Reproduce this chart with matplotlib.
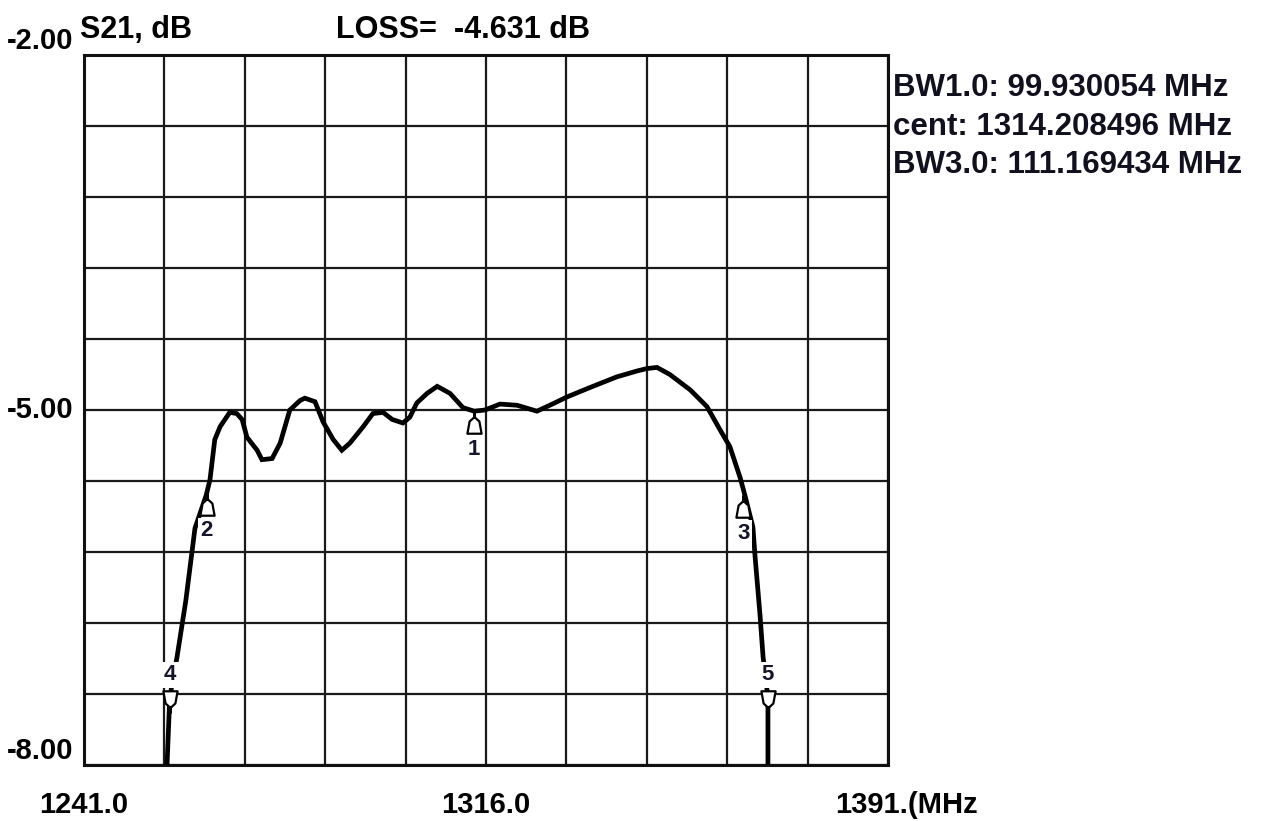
import numpy as np
import matplotlib
matplotlib.use("Agg")
import matplotlib.pyplot as plt
from matplotlib.path import Path

# S21 trace (MHz, dB)
freq_mhz = [1256.4, 1256.5, 1257.0, 1258.35, 1260.0, 1261.7, 1263.8, 1264.5,
            1265.4, 1266.4, 1267.3, 1268.2, 1269.5, 1270.5, 1271.4, 1273.3,
            1274.2, 1276.1, 1277.6, 1279.4, 1281.3, 1282.2, 1284.1, 1285.6,
            1287.5, 1289.1, 1290.6, 1293.1, 1294.9, 1296.8, 1298.5, 1300.5,
            1301.8, 1303.1, 1305.0, 1306.9, 1309.3, 1311.7, 1313.8, 1315.8,
            1318.6, 1321.8, 1325.5, 1327.9, 1331.1, 1335.4, 1340.4, 1344.2,
            1346.0, 1347.9, 1350.3, 1354.1, 1357.2, 1359.7, 1361.5, 1363.4, 1364.3,
            1365.8, 1366.2, 1367.1, 1367.7, 1368.6, 1368.6, 1368.7]
s21_db = [-8.5, -7.99, -7.43, -7.09, -6.61, -6.00, -5.72, -5.59,
          -5.25, -5.14, -5.08, -5.02, -5.03, -5.08, -5.23, -5.34,
          -5.42, -5.41, -5.28, -5.00, -4.92, -4.90, -4.93, -5.10,
          -5.25, -5.34, -5.28, -5.14, -5.03, -5.02, -5.08, -5.11,
          -5.06, -4.94, -4.86, -4.80, -4.86, -4.98, -5.01, -5.00,
          -4.95, -4.96, -5.01, -4.96, -4.89, -4.81, -4.72, -4.67,
          -4.65, -4.64, -4.70, -4.83, -4.97, -5.17, -5.31, -5.57, -5.72,
          -5.99, -6.24, -6.72, -7.09, -7.43, -7.99, -8.5]

# markers: label, freq, level, pointing up?
mk_labels = ["1", "2", "3", "4", "5"]
mk_freq = [1313.8, 1263.9, 1364.0, 1257.0, 1368.6]
mk_db = [-5.01, -5.70, -5.72, -7.56, -7.56]
mk_up = [True, True, True, False, False]

x_grid = np.arange(1241, 1392, 15)
y_grid = np.round(np.arange(-8, -1.99, 0.6), 2)
y_labels = ["-2.00", "-5.00", "-8.00"]
y_label_vals = [-2.0, -5.0, -8.0]
x_labels = ["1241.0", "1316.0", "1391.(MHz"]
x_label_vals = [1241.0, 1316.0, 1391.0]
info_lines = ["BW1.0: 99.930054 MHz", "cent: 1314.208496 MHz", "BW3.0: 111.169434 MHz"]

FONT = ["Liberation Sans", "DejaVu Sans"]

fig = plt.figure(figsize=(12.62, 8.21), dpi=100)
ax = fig.add_axes([84 / 1262, 1 - 765 / 821, 804 / 1262, 710 / 821])

ax.set_xlim(1241, 1391)
ax.set_ylim(-8, -2)
ax.set_xticks(x_grid)
ax.set_yticks(y_grid)
ax.tick_params(length=0, labelbottom=False, labelleft=False)
ax.grid(True, color="#1a1a1a", lw=1.6)
for sp in ax.spines.values():
    sp.set_linewidth(2.2)
    sp.set_color("#111111")

ax.plot(freq_mhz, s21_db, color="black", lw=3.4, solid_joinstyle="miter", zorder=3)

# marker glyph: apex at the origin
up_path = Path([(0, 0), (0, -0.25), (-0.22, -0.45), (-0.32, -1.0), (0.32, -1.0),
                (0.22, -0.45), (0, -0.25), (0, 0)])
down_path = Path([(x, -y) for x, y in up_path.vertices])

for lab, f, d, up in zip(mk_labels, mk_freq, mk_db, mk_up):
    ax.plot([f], [d], marker=up_path if up else down_path, ms=32, mfc="white",
            mec="black", mew=1.6, zorder=4, clip_on=False)
    off = -38 if up else 38
    ax.annotate(lab, (f, d), xytext=(0, off), textcoords="offset pixels",
                ha="center", va="center", fontsize=16, fontweight="bold",
                family=FONT, color="#14142a", zorder=5,
                bbox=dict(boxstyle="square,pad=0.12", fc="white", ec="none"))

# axis labels
ytr = ax.get_yaxis_transform()
for lab, v in zip(y_labels, y_label_vals):
    va = "center" if v == -5.0 else "bottom"
    ax.text(-0.013, v, lab, transform=ytr, ha="right", va=va, fontsize=21,
            family=FONT, fontweight="bold")

xtr = ax.get_xaxis_transform()
for lab, v in zip(x_labels, x_label_vals):
    ha = "left" if lab.endswith("MHz") else "center"
    xx = v - 9.8 if ha == "left" else v
    ax.text(xx, -0.056, lab, transform=xtr, ha=ha, va="center", fontsize=21,
            family=FONT, fontweight="bold")

fig.text(80 / 1262, 1 - 38 / 821, "S21, dB", ha="left", va="baseline",
         fontsize=22, family=FONT, fontweight="bold")
fig.text(336 / 1262, 1 - 38 / 821, "LOSS=  -4.631 dB", ha="left", va="baseline",
         fontsize=22, family=FONT, fontweight="bold")

for i, line in enumerate(info_lines):
    fig.text(893 / 1262, 1 - (88 + 38.5 * i) / 821, line, ha="left", va="center",
             fontsize=22.5, family=FONT, fontweight="bold", color="#10101e")

fig.savefig("out.png", dpi=100, facecolor="white")
